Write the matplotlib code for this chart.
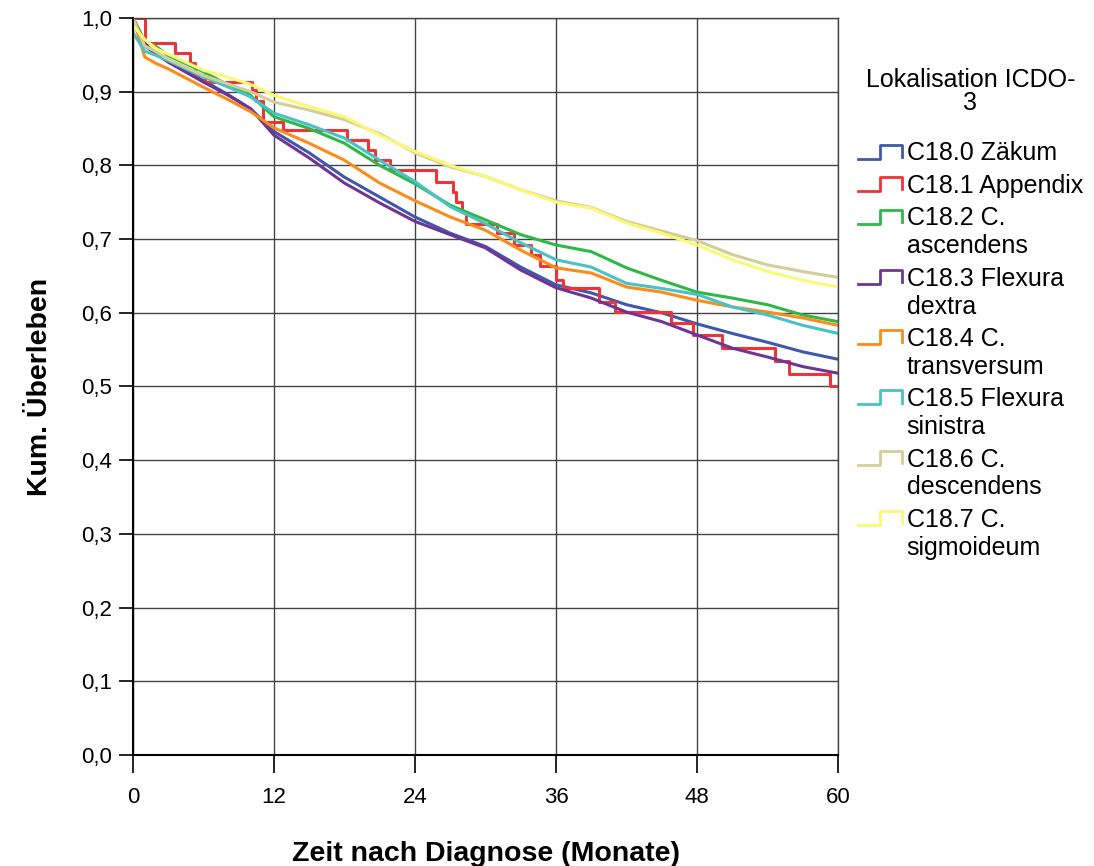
import matplotlib
matplotlib.use("Agg")
import matplotlib.pyplot as plt
from matplotlib.legend_handler import HandlerBase
from matplotlib.lines import Line2D

plt.rcParams["font.family"] = ["Liberation Sans", "DejaVu Sans"]

# Kaplan-Meier curves (months, cumulative survival)
months = [0, 1, 2, 3, 6, 8, 10, 12, 15, 18, 21, 24, 27, 30, 33, 36, 39, 42, 45, 48, 51, 54, 57, 60]

zaekum = [1.0, 0.962, 0.951, 0.941, 0.915, 0.897, 0.877, 0.846, 0.817, 0.784, 0.757, 0.730,
          0.708, 0.690, 0.662, 0.638, 0.627, 0.611, 0.600, 0.585, 0.572, 0.560, 0.547, 0.537]
ascendens = [1.0, 0.969, 0.961, 0.949, 0.927, 0.910, 0.895, 0.866, 0.850, 0.830, 0.800, 0.775,
             0.746, 0.726, 0.706, 0.692, 0.683, 0.661, 0.644, 0.628, 0.620, 0.611, 0.597, 0.588]
flex_dextra = [1.0, 0.965, 0.951, 0.940, 0.913, 0.896, 0.877, 0.841, 0.810, 0.776, 0.749, 0.724,
               0.706, 0.688, 0.658, 0.634, 0.620, 0.601, 0.588, 0.570, 0.552, 0.540, 0.527, 0.518]
transversum = [1.0, 0.947, 0.938, 0.931, 0.906, 0.890, 0.873, 0.851, 0.830, 0.807, 0.776, 0.752,
               0.730, 0.712, 0.685, 0.661, 0.654, 0.635, 0.628, 0.617, 0.608, 0.601, 0.593, 0.583]
flex_sinistra = [0.98, 0.955, 0.949, 0.942, 0.920, 0.907, 0.893, 0.871, 0.855, 0.837, 0.807, 0.778,
                 0.744, 0.721, 0.695, 0.672, 0.662, 0.640, 0.633, 0.625, 0.608, 0.597, 0.583, 0.572]
descendens = [1.0, 0.962, 0.954, 0.944, 0.922, 0.911, 0.900, 0.886, 0.875, 0.862, 0.843, 0.817,
              0.798, 0.785, 0.767, 0.752, 0.743, 0.724, 0.711, 0.698, 0.679, 0.665, 0.656, 0.648]
sigmoideum = [0.99, 0.971, 0.958, 0.951, 0.929, 0.920, 0.910, 0.895, 0.880, 0.866, 0.841, 0.819,
              0.800, 0.785, 0.767, 0.750, 0.742, 0.722, 0.708, 0.692, 0.672, 0.656, 0.644, 0.635]

# appendix has few cases -> visible steps
app_t = [0, 1.0, 3.6, 4.85, 5.3, 6.1, 10.1, 10.5, 11.1, 12.8, 18.2, 20.0, 20.6, 21.9, 25.8,
         27.2, 27.5, 28.0, 28.3, 31.0, 32.4, 33.9, 34.6, 36.0, 36.6, 39.7, 41.0, 45.8, 47.7,
         50.1, 54.6, 55.8, 59.3, 60]
app_s = [1.0, 0.966, 0.953, 0.939, 0.923, 0.913, 0.902, 0.887, 0.859, 0.848, 0.834, 0.821,
         0.807, 0.794, 0.778, 0.764, 0.751, 0.737, 0.721, 0.708, 0.692, 0.678, 0.663, 0.644,
         0.633, 0.615, 0.601, 0.586, 0.570, 0.552, 0.535, 0.517, 0.501, 0.501]

labels = ["C18.0 Zäkum", "C18.1 Appendix", "C18.2 C.\nascendens", "C18.3 Flexura\ndextra",
          "C18.4 C.\ntransversum", "C18.5 Flexura\nsinistra", "C18.6 C.\ndescendens",
          "C18.7 C.\nsigmoideum"]
colors = ["#3e58ac", "#ef3338", "#2eb848", "#703593", "#fa8c1b", "#48c2c5", "#d3ce97", "#fbf873"]


class StepHandler(HandlerBase):
    # little step-shaped legend key, aligned with the first text line
    def create_artists(self, legend, orig_handle, xdescent, ydescent, width, height,
                       fontsize, trans):
        off = 0.66 * fontsize if "\n" in orig_handle.get_label() else 0
        x0 = -xdescent
        y0 = -ydescent + off
        xs = [x0, x0 + 0.5 * width, x0 + 0.5 * width, x0 + width, x0 + width]
        ys = [y0 + 0.1 * height, y0 + 0.1 * height, y0 + 0.9 * height,
              y0 + 0.9 * height, y0 + 0.2 * height]
        ln = Line2D(xs, ys, color=orig_handle.get_color(), lw=2)
        ln.set_transform(trans)
        return [ln]


fig = plt.figure(figsize=(10.94, 8.66), dpi=100)
ax = fig.add_axes([133 / 1094, 1 - 755 / 866, 705 / 1094, 737 / 866])

series = [zaekum, None, ascendens, flex_dextra, transversum, flex_sinistra, descendens, sigmoideum]
for lab, col, ser in zip(labels, colors, series):
    if ser is None:
        ax.plot(app_t, app_s, drawstyle="steps-post", color=col, lw=2.2, label=lab)
    else:
        ax.plot(months, ser, color=col, lw=2.2, label=lab)

ax.set_xlim(0, 60)
ax.set_ylim(0, 1.0)
ax.set_xticks(range(0, 61, 12))
yt = [i / 10 for i in range(11)]
ax.set_yticks(yt)
ax.set_yticklabels([f"{v:.1f}".replace(".", ",") for v in yt])
ax.grid(True, color="#444444", lw=1)
ax.set_axisbelow(True)
for s in ["top", "right"]:
    ax.spines[s].set_color("#444444")
    ax.spines[s].set_linewidth(1)
for s in ["left", "bottom"]:
    ax.spines[s].set_linewidth(1.5)
ax.tick_params(axis="y", length=10, width=1.2, pad=5, labelsize=16)
ax.tick_params(axis="x", length=13, width=1.2, pad=10, labelsize=16)
ax.set_xlabel("Zeit nach Diagnose (Monate)", fontsize=20.5, fontweight="bold", labelpad=24)
ax.set_ylabel("Kum. Überleben", fontsize=20.5, fontweight="bold", labelpad=20)

leg = fig.legend(handles=ax.get_lines(), handler_map={Line2D: StepHandler()},
                 loc="upper left", bbox_to_anchor=(848 / 1094, 1 - 58 / 866),
                 title="Lokalisation ICDO-\n3", fontsize=18, title_fontsize=18,
                 frameon=False, handlelength=1.75, handletextpad=0.2, labelspacing=0.34,
                 borderaxespad=0)
leg._legend_box.align = "center"
leg._legend_box.sep = 19
for t in leg.get_texts():
    t.set_linespacing(1.2)
leg.get_title().set_multialignment("center")
leg.get_title().set_linespacing(0.95)

fig.savefig("out.png", dpi=100)
